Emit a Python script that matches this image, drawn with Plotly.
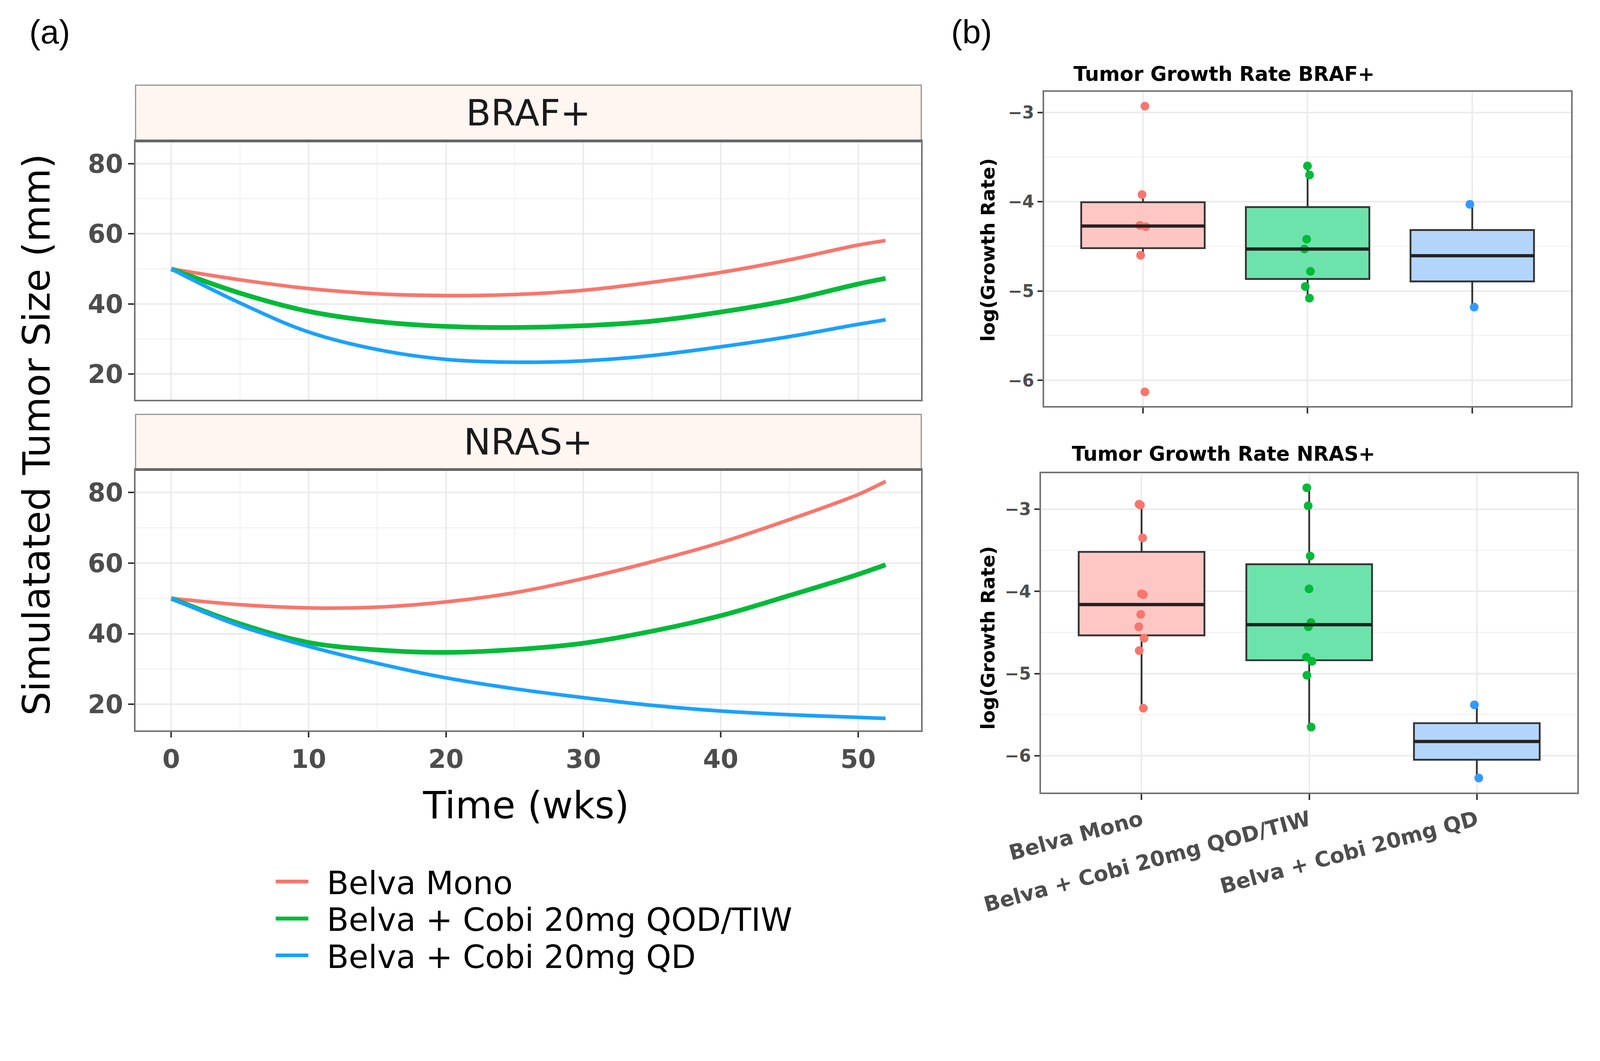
import numpy as np
import plotly.graph_objects as go

# ---- panel (a): simulated tumor size ----
time_wks = [0, 5, 10, 15, 20, 25, 30, 35, 40, 45, 50, 52]
braf_mono = [50, 46.9, 44.4, 42.9, 42.4, 42.7, 43.9, 46.2, 49.0, 52.6, 56.8, 58.1]
braf_qod = [50, 43.1, 37.9, 35.0, 33.6, 33.3, 33.8, 35.1, 37.7, 41.1, 45.7, 47.3]
braf_qd = [50, 40.3, 32.0, 27.0, 24.2, 23.4, 23.8, 25.3, 27.8, 30.7, 34.2, 35.5]
nras_mono = [50, 48.2, 47.3, 47.5, 49.0, 51.6, 55.6, 60.4, 65.8, 72.3, 79.4, 83.1]
nras_qod = [50, 42.8, 37.5, 35.4, 34.7, 35.5, 37.3, 40.7, 45.1, 50.8, 56.8, 59.5]
nras_qd = [50, 42.2, 36.4, 31.6, 27.5, 24.4, 21.9, 19.7, 18.1, 17.05, 16.3, 16.0]

# ---- panel (b): log growth rates per patient ----
arms = ["Belva Mono", "Belva + Cobi 20mg QOD/TIW", "Belva + Cobi 20mg QD"]
braf_mono_pts = [-2.93, -3.92, -4.265, -4.28, -4.60, -6.13]
braf_qod_pts = [-3.60, -3.70, -4.42, -4.53, -4.78, -4.95, -5.08]
braf_qd_pts = [-4.03, -5.18]
nras_mono_pts = [-2.94, -2.95, -3.35, -4.03, -4.04, -4.28, -4.43, -4.57, -4.72, -5.42]
nras_qod_pts = [-2.74, -2.96, -3.57, -3.97, -4.38, -4.43, -4.80, -4.85, -5.02, -5.65]
nras_qd_pts = [-5.38, -6.27]

line_colors = ["#F8766D", "#00BA38", "#1AA1FF"]
point_colors = ["#F8766D", "#00BA38", "#3399FF"]
fill_colors = ["#FFC7C4", "#6DE3AC", "#B4D5FB"]

# the page viewport comes out a bit smaller than the nominal window, so size to it
K = 0.929
W, H = round(4386 * K), round(2715 * K)


def px(v):
    return v * K


FONT = "DejaVu Sans"
GRAY = "#4D4D4D"
GRID = "#EBEBEB"
GRID_MINOR = "#F3F3F3"
BORDER = "#737373"

line_widths = [px(10), px(13), px(10)]
legend_ids = ["legend", "legend2", "legend3"]

fig = go.Figure()

# left panels
for xa, ya, series, show in [("x", "y", [braf_mono, braf_qod, braf_qd], True),
                             ("x2", "y2", [nras_mono, nras_qod, nras_qd], False)]:
    for name, vals, col, lw, lg in zip(arms, series, line_colors, line_widths, legend_ids):
        fig.add_trace(go.Scatter(
            x=time_wks, y=vals, mode="lines", name="\u00a0\u2009" + name,
            line=dict(color=col, width=lw, shape="spline", smoothing=1.0),
            xaxis=xa, yaxis=ya, showlegend=show, legend=lg,
        ))


def box_stats(pts):
    a = np.sort(np.asarray(pts, dtype=float))
    q1, med, q3 = np.percentile(a, [25, 50, 75])
    iqr = q3 - q1
    lo = a[a >= q1 - 1.5 * iqr].min()
    hi = a[a <= q3 + 1.5 * iqr].max()
    return q1, med, q3, lo, hi


shapes = []
for xa, ya, groups in [("x3", "y3", [braf_mono_pts, braf_qod_pts, braf_qd_pts]),
                       ("x4", "y4", [nras_mono_pts, nras_qod_pts, nras_qd_pts])]:
    for i, (arm, pts) in enumerate(zip(arms, groups)):
        q1, med, q3, lo, hi = box_stats(pts)
        fig.add_trace(go.Box(
            x=[arm], q1=[q1], median=[med], q3=[q3], lowerfence=[lo], upperfence=[hi],
            boxpoints=False, width=0.75, whiskerwidth=0,
            fillcolor=fill_colors[i], line=dict(color="#333333", width=px(5)),
            xaxis=xa, yaxis=ya, showlegend=False, hoverinfo="skip",
        ))
        # thicker median bar like ggplot
        shapes.append(dict(type="line", xref=xa, yref=ya, x0=i - 0.375, x1=i + 0.375,
                           y0=med, y1=med, line=dict(color="#222222", width=px(9)), layer="above"))
    for i, (arm, pts) in enumerate(zip(arms, groups)):
        fig.add_trace(go.Box(
            x=[arm] * len(pts), y=pts, boxpoints="all", jitter=0.06, pointpos=0,
            width=0.75, fillcolor="rgba(0,0,0,0)", line=dict(width=0),
            marker=dict(color=point_colors[i], size=px(24)),
            xaxis=xa, yaxis=ya, showlegend=False, hoverinfo="y",
        ))


def padded(vals, frac=0.05):
    lo, hi = min(vals), max(vals)
    pad = (hi - lo) * frac
    return [lo - pad, hi + pad]


left_range = padded(braf_mono + braf_qod + braf_qd + nras_mono + nras_qod + nras_qd)
braf_range = padded(braf_mono_pts + braf_qod_pts + braf_qd_pts)
nras_range = padded(nras_mono_pts + nras_qod_pts + nras_qd_pts)

tick_font = dict(family=FONT, size=px(70), color=GRAY, weight="bold")
small_tick_font = dict(family=FONT, size=px(47), color=GRAY, weight="bold")

common = dict(showline=True, mirror=True, linecolor=BORDER, linewidth=px(4),
              showgrid=True, gridcolor=GRID, gridwidth=px(4), zeroline=False,
              tickcolor="#333333", tickwidth=px(4), ticklen=px(16), automargin=False)

left_x = dict(common, range=[-2.6, 54.6], dtick=10, tick0=0,
              minor=dict(dtick=5, showgrid=True, gridcolor=GRID_MINOR, gridwidth=px(3)),
              tickfont=tick_font)
left_y = dict(common, range=left_range, dtick=20, tick0=0, ticks="outside",
              minor=dict(dtick=10, showgrid=True, gridcolor=GRID_MINOR, gridwidth=px(3)),
              tickfont=tick_font)
right_x = dict(common, type="category", categoryorder="array", categoryarray=arms,
               range=[-0.6, 2.6], ticks="outside",
               tickfont=dict(family=FONT, size=px(58), color=GRAY, weight="bold"))
right_y = dict(common, dtick=1, tick0=0, ticks="outside", ticklen=px(14),
               minor=dict(dtick=0.5, showgrid=True, gridcolor=GRID_MINOR, gridwidth=px(3)),
               tickfont=small_tick_font)

L0, L1 = 0.0832, 0.5768
P1 = [0.5974, 0.860]
S1 = [0.860, 0.9168]
P2 = [0.2622, 0.5267]
S2 = [0.5267, 0.5827]

legend_style = dict(x=0.170, xanchor="left", yanchor="middle",
                    font=dict(family=FONT, size=px(88), color="black"),
                    itemwidth=px(90), bgcolor="rgba(0,0,0,0)")

fig.update_layout(
    width=W, height=H,
    margin=dict(l=0, r=0, t=0, b=0, autoexpand=False),
    paper_bgcolor="white", plot_bgcolor="white",
    font=dict(family=FONT, color="black"),
    xaxis=dict(left_x, domain=[L0, L1], anchor="y", showticklabels=False, ticks=""),
    yaxis=dict(left_y, domain=P1, anchor="x"),
    xaxis2=dict(left_x, domain=[L0, L1], anchor="y2", ticks="outside"),
    yaxis2=dict(left_y, domain=P2, anchor="x2"),
    xaxis3=dict(right_x, domain=[0.654, 0.985], anchor="y3", showticklabels=False),
    yaxis3=dict(right_y, domain=[0.591, 0.910], anchor="x3", range=braf_range),
    xaxis4=dict(right_x, domain=[0.652, 0.989], anchor="y4", tickangle=-15),
    yaxis4=dict(right_y, domain=[0.199, 0.523], anchor="x4", range=nras_range),
    boxmode="overlay",
    legend=dict(legend_style, y=0.1086),
    legend2=dict(legend_style, y=0.0710),
    legend3=dict(legend_style, y=0.0337),
)

# facet strips
for (y0, y1), label in [(S1, "BRAF+"), (S2, "NRAS+")]:
    shapes.append(dict(type="rect", xref="paper", yref="paper", x0=L0, x1=L1, y0=y0, y1=y1,
                       fillcolor="#FFF5F1", line=dict(color="#8C8C8C", width=px(3)), layer="below"))
    shapes.append(dict(type="line", xref="paper", yref="paper", x0=L0, x1=L1, y0=y0, y1=y0,
                       line=dict(color="#666666", width=px(7))))
    fig.add_annotation(text=label, xref="paper", yref="paper", x=(L0 + L1) / 2, y=(y0 + y1) / 2,
                       xanchor="center", yanchor="middle", showarrow=False,
                       font=dict(family=FONT, size=px(100), color="#1A1A1A"))

fig.update_layout(shapes=shapes)

ann = [
    dict(text="(a)", x=0.016, y=0.971, xanchor="left", font=dict(family="Liberation Sans", size=px(92))),
    dict(text="(b)", x=0.595, y=0.971, xanchor="left", font=dict(family="Liberation Sans", size=px(92))),
    dict(text="Simulatated Tumor Size (mm)", x=0.021, y=0.562, textangle=-90,
         font=dict(family=FONT, size=px(104))),
    dict(text="Time (wks)", x=0.3284, y=0.186, font=dict(family=FONT, size=px(104))),
    dict(text="Tumor Growth Rate BRAF+", x=0.672, y=0.928, xanchor="left",
         font=dict(family=FONT, size=px(55), weight="bold")),
    dict(text="Tumor Growth Rate NRAS+", x=0.671, y=0.5425, xanchor="left",
         font=dict(family=FONT, size=px(55), weight="bold")),
    dict(text="log(Growth Rate)", x=0.6186, y=0.7496, textangle=-90,
         font=dict(family=FONT, size=px(52), weight="bold")),
    dict(text="log(Growth Rate)", x=0.6186, y=0.356, textangle=-90,
         font=dict(family=FONT, size=px(52), weight="bold")),
]
for a in ann:
    a.setdefault("xanchor", "center")
    fig.add_annotation(xref="paper", yref="paper", showarrow=False, yanchor="middle", **a)

fig.write_html("out.html")
